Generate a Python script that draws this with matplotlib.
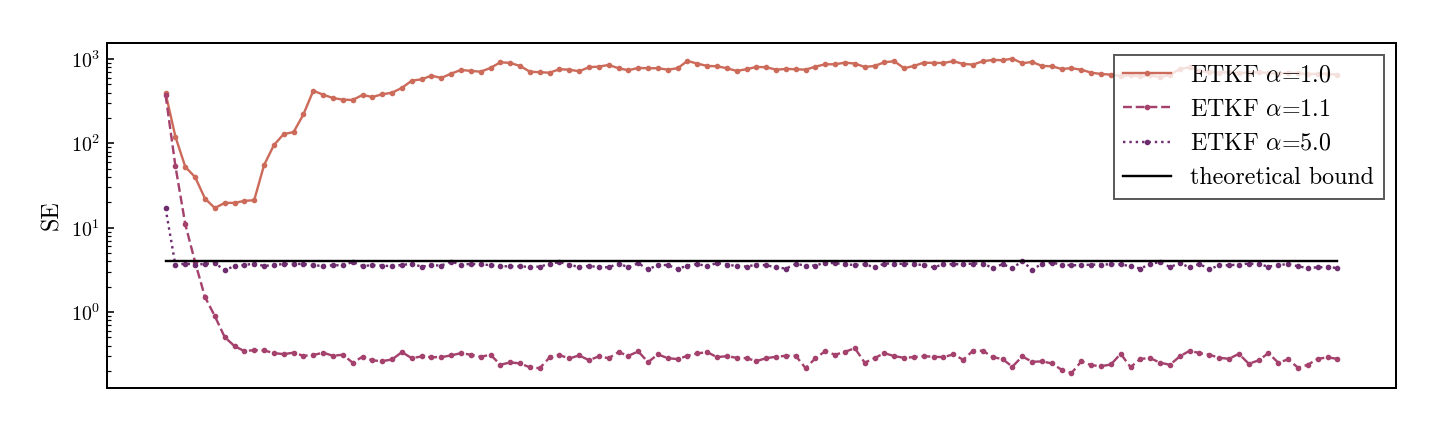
import numpy as np
import matplotlib
matplotlib.use("Agg")
import matplotlib.pyplot as plt

plt.rcParams['font.family'] = 'serif'
plt.rcParams['font.serif'] = ['cmr10', 'DejaVu Serif']
plt.rcParams['mathtext.fontset'] = 'cm'
plt.rcParams['axes.formatter.use_mathtext'] = True

# SE per step (120 steps)
se_a10 = [393, 120, 52.7, 39.8, 22.2, 17.1, 19.7, 19.7, 20.8, 21.2,
          55.2, 95.5, 129, 136, 221, 421, 378, 345, 330, 327,
          375, 355, 382, 399, 455, 554, 575, 635, 597, 671,
          743, 723, 708, 784, 916, 899, 828, 708, 697, 689,
          757, 748, 716, 800, 813, 851, 778, 736, 784, 778,
          778, 748, 778, 949, 883, 828, 821, 778, 723, 757,
          806, 800, 748, 763, 757, 748, 813, 867, 867, 907,
          883, 806, 828, 916, 942, 778, 828, 907, 899, 899,
          942, 875, 859, 942, 975, 968, 1011, 891, 924, 828,
          821, 763, 778, 748, 689, 665, 653, 630, 640, 625,
          640, 610, 650, 760, 800, 720, 700, 690, 700, 680,
          690, 700, 680, 670, 690, 680, 660, 670, 670, 650]

se_a11 = [375, 53.7, 11.0, 3.9, 1.51, 0.896, 0.505, 0.395, 0.344, 0.354,
          0.351, 0.326, 0.317, 0.330, 0.303, 0.309, 0.330, 0.303, 0.312, 0.251,
          0.295, 0.267, 0.262, 0.274, 0.335, 0.284, 0.298, 0.292, 0.292, 0.306,
          0.326, 0.312, 0.295, 0.312, 0.237, 0.253, 0.246, 0.221, 0.216, 0.290,
          0.309, 0.282, 0.306, 0.269, 0.298, 0.284, 0.335, 0.303, 0.341, 0.255,
          0.315, 0.284, 0.277, 0.303, 0.323, 0.335, 0.292, 0.300, 0.287, 0.284,
          0.262, 0.284, 0.295, 0.303, 0.303, 0.216, 0.284, 0.344, 0.312, 0.338,
          0.373, 0.251, 0.284, 0.326, 0.300, 0.287, 0.292, 0.300, 0.295, 0.292,
          0.315, 0.272, 0.348, 0.348, 0.292, 0.277, 0.225, 0.298, 0.257, 0.260,
          0.246, 0.207, 0.189, 0.260, 0.235, 0.228, 0.239, 0.320, 0.222, 0.279,
          0.284, 0.251, 0.237, 0.298, 0.348, 0.326, 0.312, 0.287, 0.279, 0.320,
          0.244, 0.267, 0.326, 0.251, 0.275, 0.219, 0.237, 0.279, 0.290, 0.279]

se_a50 = [16.9, 3.59, 3.76, 3.65, 3.72, 3.82, 3.13, 3.52, 3.61, 3.76,
          3.52, 3.61, 3.72, 3.72, 3.72, 3.59, 3.52, 3.59, 3.59, 3.92,
          3.52, 3.59, 3.56, 3.49, 3.63, 3.72, 3.46, 3.59, 3.56, 3.97,
          3.65, 3.72, 3.69, 3.59, 3.49, 3.49, 3.49, 3.42, 3.46, 3.72,
          3.92, 3.65, 3.42, 3.52, 3.42, 3.39, 3.76, 3.39, 3.79, 3.21,
          3.61, 3.61, 3.24, 3.56, 3.72, 3.49, 3.82, 3.65, 3.52, 3.46,
          3.65, 3.59, 3.39, 3.28, 3.72, 3.56, 3.56, 3.86, 3.79, 3.69,
          3.61, 3.69, 3.39, 3.76, 3.76, 3.72, 3.72, 3.59, 3.39, 3.69,
          3.69, 3.69, 3.76, 3.76, 3.33, 3.69, 3.33, 4.00, 3.19, 3.72,
          3.86, 3.65, 3.59, 3.59, 3.65, 3.65, 3.69, 3.68, 3.49, 3.28,
          3.72, 3.92, 3.42, 3.79, 3.39, 3.72, 3.21, 3.59, 3.59, 3.65,
          3.76, 3.69, 3.46, 3.59, 3.72, 3.49, 3.33, 3.39, 3.42, 3.33]

bound = 4.0
steps = np.arange(len(se_a10))

fig = plt.figure(figsize=(10, 3), dpi=144)
ax = fig.add_axes([0.0743, 0.102, 0.8951, 0.7985])

ax.plot(steps, se_a10, '-', color='#cd6b5b', lw=1.2, marker='o', ms=1.8, label=r'ETKF $\alpha$=1.0')
ax.plot(steps, se_a11, '--', color='#a4416d', lw=1.2, marker='o', ms=1.8, label=r'ETKF $\alpha$=1.1')
ax.plot(steps, se_a50, ':', color='#6d2d6e', lw=1.2, marker='o', ms=1.8, label=r'ETKF $\alpha$=5.0')
ax.plot(steps, np.full(len(steps), bound), '-', color='black', lw=1.2, label='theoretical bound')

ax.set_yscale('log')
ax.set_ylim(0.126, 1550)
ax.set_ylabel('SE', fontsize=12)
ax.set_xticks([])
ax.tick_params(axis='y', which='both', direction='in', labelsize=10)
for s in ax.spines.values():
    s.set_linewidth(1.0)

leg = ax.legend(loc='upper right', fontsize=12, fancybox=False, framealpha=0.8, edgecolor='#333333')
leg.get_frame().set_linewidth(1.0)

fig.savefig('out.png', dpi=144)
